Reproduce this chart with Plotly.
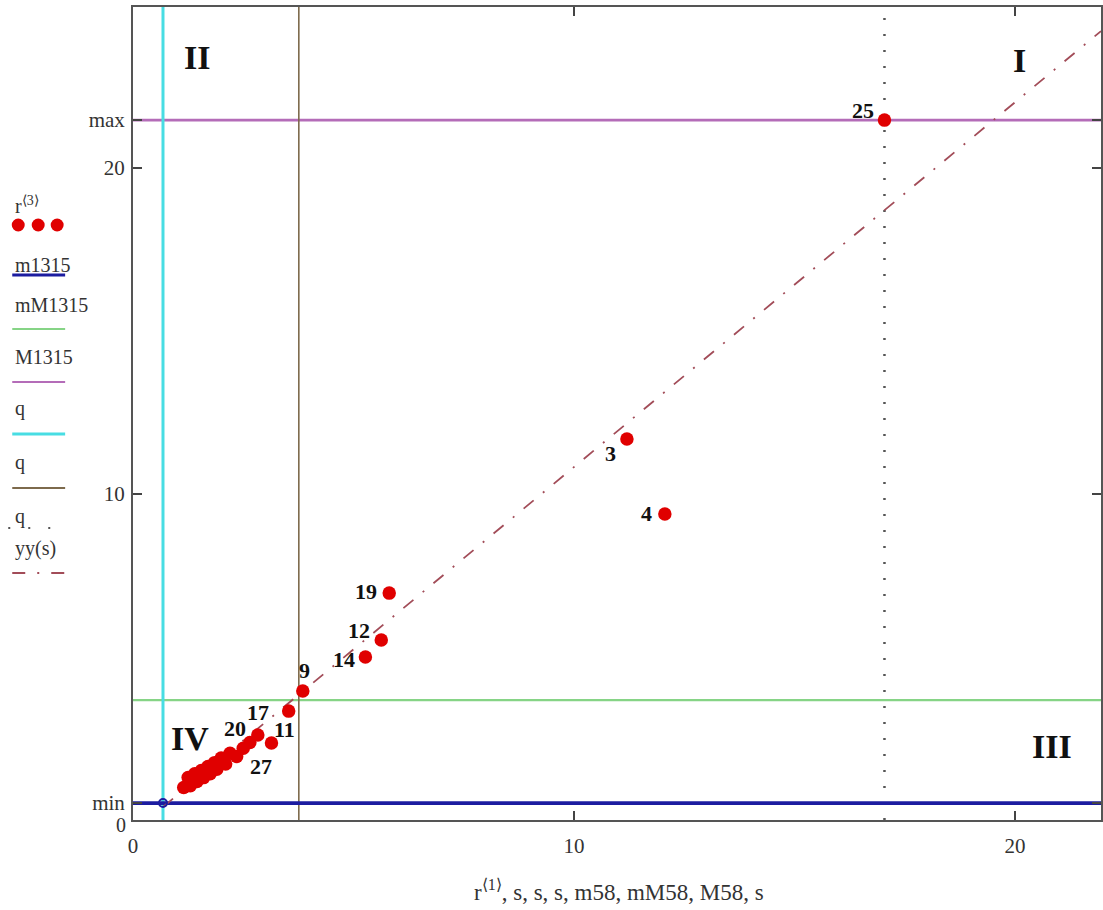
import plotly.graph_objects as go

# ---------------- data ----------------
r1 = [17.04, 11.20, 12.06, 5.81, 5.63, 5.27, 3.85, 3.53, 3.14, 2.83,
      1.15, 1.25, 1.30, 1.40, 1.45, 1.55, 1.60, 1.70, 1.75, 1.85,
      1.90, 2.00, 2.10, 2.20, 2.35, 2.50, 2.65]
r3 = [21.47, 11.69, 9.39, 6.96, 5.52, 5.00, 3.96, 3.34, 2.36, 2.61,
      1.00, 1.30, 1.05, 1.42, 1.18, 1.52, 1.30, 1.64, 1.42, 1.76,
      1.56, 1.90, 1.72, 2.05, 1.95, 2.20, 2.38]

# labels: text and index of the point they belong to
lab_text = ["25", "3", "4", "19", "12", "14", "9", "17", "11", "27", "20"]
lab_idx = [0, 1, 2, 3, 4, 5, 6, 7, 8, 8, 9]

m1315 = 0.52      # min
mM1315 = 3.68
M1315 = 21.47     # max
q_vals = [0.68, 3.76, 17.04]

s_line = [0.68, 21.95]
yy_line = [0.40, 24.20]

x_range = [0, 21.95]
y_range = [0, 24.94]

x_ticks = [0, 10, 20]
y_ticks = [m1315, 10, 20, M1315]
y_ticktext = ["min", "10", "20", "max"]

quad_text = ["I", "II", "III", "IV"]
quad_x = [20.1, 1.45, 20.85, 1.3]
quad_y = [23.3, 23.4, 2.25, 2.5]

legend_names = ["m1315", "mM1315", "M1315", "q", "q", "q", "yy(s)"]

# ---------------- styles ----------------
FONT = "Liberation Serif"
C_RED = "#e00000"
C_BLUE = "#1c1ca0"
C_GREEN = "#86d486"
C_VIOLET = "#b46cb8"
C_CYAN = "#48dde3"
C_BROWN = "#7d6a4c"
C_DOT = "#555555"
C_YY = "#a24c58"

L, R, T, B = 133, 1103, 7, 820
W, H = R - L, B - T


def px(xp):
    return (xp - L) / W


def py(yp):
    return (B - yp) / H


fig = go.Figure()

# reference lines
fig.add_trace(go.Scatter(x=x_range, y=[mM1315, mM1315], mode="lines",
                         line=dict(color=C_GREEN, width=2.2), hoverinfo="skip"))
fig.add_trace(go.Scatter(x=x_range, y=[M1315, M1315], mode="lines",
                         line=dict(color=C_VIOLET, width=2.8), hoverinfo="skip"))
fig.add_trace(go.Scatter(x=[q_vals[0], q_vals[0]], y=y_range, mode="lines",
                         line=dict(color=C_CYAN, width=3), hoverinfo="skip"))
fig.add_trace(go.Scatter(x=[q_vals[1], q_vals[1]], y=y_range, mode="lines",
                         line=dict(color=C_BROWN, width=1.6), hoverinfo="skip"))
fig.add_trace(go.Scatter(x=[q_vals[2], q_vals[2]], y=y_range, mode="lines",
                         line=dict(color=C_DOT, width=2.5, dash="2px,14px"),
                         hoverinfo="skip"))
fig.add_trace(go.Scatter(x=x_range, y=[m1315, m1315], mode="lines",
                         line=dict(color=C_BLUE, width=3.8), hoverinfo="skip"))
fig.add_trace(go.Scatter(x=s_line, y=yy_line, mode="lines",
                         line=dict(color=C_YY, width=1.8, dash="13px,12px,2px,12px"),
                         hoverinfo="skip"))
fig.add_trace(go.Scatter(x=[q_vals[0]], y=[m1315], mode="markers",
                         marker=dict(color=C_BLUE, size=8, symbol="circle-open",
                                     line=dict(width=2, color=C_BLUE)),
                         hoverinfo="skip"))
# points
fig.add_trace(go.Scatter(x=r1, y=r3, mode="markers",
                         marker=dict(color=C_RED, size=13.5,
                                     line=dict(width=0))))

# point labels
offsets = [(-21, 10), (-16, -15), (-18, 0), (-23, 2), (-22, 10), (-21, -2),
           (2, 20), (-31, -1), (13, 14), (-10, -23), (-23, 6)]
for t, i, (dx, dy) in zip(lab_text, lab_idx, offsets):
    fig.add_annotation(x=r1[i], y=r3[i], text="<b>" + t + "</b>", showarrow=False,
                       xshift=dx, yshift=dy,
                       font=dict(family=FONT, size=22, color="#111"))

for t, xq, yq in zip(quad_text, quad_x, quad_y):
    fig.add_annotation(x=xq, y=yq, text="<b>" + t + "</b>", showarrow=False,
                       font=dict(family=FONT, size=34, color="#111"))

# y "0" label at the bottom of the axis
fig.add_annotation(x=0, y=0, text="0", showarrow=False, xanchor="right",
                   xshift=-5, yshift=-5,
                   font=dict(family=FONT, size=20, color="#333"))

# x axis title
fig.add_annotation(xref="paper", yref="paper", x=px(620), y=py(907),
                   yanchor="bottom",
                   text="r<sup>⟨1⟩</sup>, s, s, s, m58, mM58, M58, s",
                   showarrow=False,
                   font=dict(family=FONT, size=23, color="#333"))

# ---------------- custom legend on the left ----------------
fig.add_annotation(xref="paper", yref="paper", x=px(13), y=py(191),
                   xanchor="left", text="r<sup>⟨3⟩</sup>", showarrow=False,
                   font=dict(family=FONT, size=20, color="#333"))
for cx in [18, 38, 57]:
    fig.add_shape(type="circle", xref="paper", yref="paper",
                  x0=px(cx - 6.5), x1=px(cx + 6.5), y0=py(225 + 6.5),
                  y1=py(225 - 6.5), fillcolor=C_RED, line=dict(width=0))

leg_text_y = [252, 305, 357, 409, 462, 516, 548]
leg_line_y = [275, 329, 382, 434, 488, 528, 573]
leg_styles = [dict(color=C_BLUE, width=3),
              dict(color=C_GREEN, width=2),
              dict(color=C_VIOLET, width=2),
              dict(color=C_CYAN, width=3),
              dict(color=C_BROWN, width=2),
              dict(color=C_DOT, width=2, dash="2px,18px"),
              dict(color=C_YY, width=2, dash="13px,12px,2px,12px")]
for name, ty, ly, st in zip(legend_names, leg_text_y, leg_line_y, leg_styles):
    fig.add_annotation(xref="paper", yref="paper", x=px(13), y=py(ty),
                       xanchor="left", text=name, showarrow=False,
                       font=dict(family=FONT, size=20, color="#333"))
    x0 = 8 if st.get("dash") == "2px,18px" else 12
    fig.add_shape(type="line", xref="paper", yref="paper",
                  x0=px(x0), x1=px(65), y0=py(ly), y1=py(ly), line=st)

axis_common = dict(showgrid=False, zeroline=False, showline=True,
                   linecolor="#555", linewidth=2, mirror="ticks",
                   ticks="inside", ticklen=9, tickwidth=2, tickcolor="#444",
                   tickfont=dict(family=FONT, size=21, color="#333"))

fig.update_xaxes(range=x_range, tickvals=x_ticks, ticklabelstandoff=6,
                 **axis_common)
fig.update_yaxes(range=y_range, tickvals=y_ticks, ticktext=y_ticktext,
                 ticklabelstandoff=2, **axis_common)

fig.update_layout(width=1103, height=910, showlegend=False,
                  margin=dict(l=L, r=1103 - R, t=T, b=910 - B, pad=0),
                  plot_bgcolor="white", paper_bgcolor="white")

fig.write_html("out.html")
